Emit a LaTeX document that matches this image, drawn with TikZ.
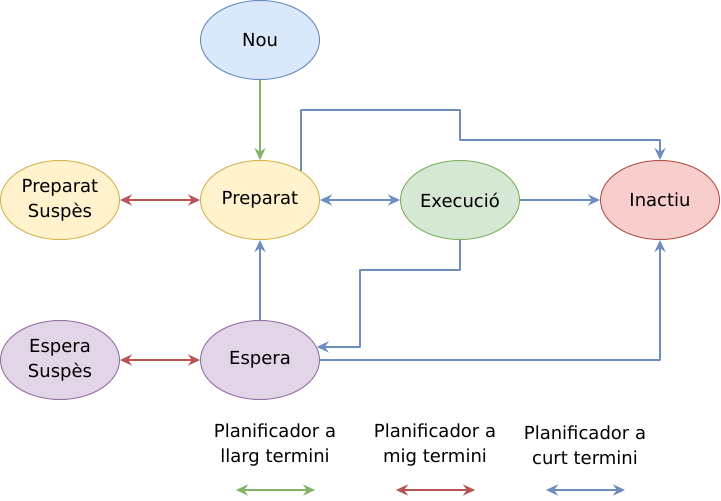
\documentclass[tikz,border=0pt]{standalone}
\usepackage{fontspec}
\setmainfont{DejaVu Sans}
\usetikzlibrary{arrows.meta,shapes.geometric}
\definecolor{nouF}{HTML}{DAE8FC}\definecolor{nouD}{HTML}{6C8EBF}
\definecolor{prepF}{HTML}{FFF2CC}\definecolor{prepD}{HTML}{D6B656}
\definecolor{exeF}{HTML}{D5E8D4}\definecolor{exeD}{HTML}{82B366}
\definecolor{inacF}{HTML}{F8CECC}\definecolor{inacD}{HTML}{B85450}
\definecolor{espF}{HTML}{E1D5E7}\definecolor{espD}{HTML}{9673A6}
\begin{document}
\begin{tikzpicture}[x=1pt,y=-1pt,>={Stealth[length=12pt,width=11pt,inset=4pt]},line join=round,
	font=\fontsize{18}{25}\selectfont,
	estat/.style={ellipse,draw,line width=1pt,minimum width=119pt,minimum height=79pt,inner sep=0pt,align=center},
	llarg/.style={draw=exeD,line width=2.2pt},
	mig/.style={draw=inacD,line width=2.2pt},
	curt/.style={draw=nouD,line width=2.2pt}]
	\useasboundingbox (0,0) rectangle (721,501);
	\node[estat,fill=nouF,draw=nouD] (nou) at (260,40) {Nou};
	\node[estat,fill=prepF,draw=prepD] (prep) at (260,200) {Preparat};
	\node[estat,fill=prepF,draw=prepD] (prepS) at (60,200) {Preparat\\Suspès};
	\node[estat,fill=exeF,draw=exeD] (exe) at (460,200) {Execució};
	\node[estat,fill=inacF,draw=inacD] (inac) at (660,200) {Inactiu};
	\node[estat,fill=espF,draw=espD] (esp) at (260,360) {Espera};
	\node[estat,fill=espF,draw=espD] (espS) at (60,360) {Espera\\Suspès};
	\draw[llarg,->] (nou) -- (prep);
	\draw[mig,<->] (prepS) -- (prep);
	\draw[mig,<->] (espS) -- (esp);
	\draw[curt,<->] (prep) -- (exe);
	\draw[curt,->] (exe) -- (inac);
	\draw[curt,->] (esp) -- (prep);
	\draw[curt,->] (prep.35) |- ([yshift=50pt]exe.north) -- ([yshift=20pt]exe.north) -| (inac.north);
	\draw[curt,->] (exe.south) -- ++(0,30) -| ([xshift=43pt]esp.13) -- (esp.13);
	\draw[curt,->] (esp.east) -| (inac.south);
	\node[align=center] (llargT) at (275,445) {Planificador a\\llarg termini};
	\node[align=center] (migT) at (435,445) {Planificador a\\mig termini};
	\node[align=center] (curtT) at (585,445) {Planificador a\\curt termini};
	\coordinate (llargA) at (236,490); \coordinate (llargB) at (315,490);
	\coordinate (migA) at (396,490); \coordinate (migB) at (475,490);
	\coordinate (curtA) at (546,490); \coordinate (curtB) at (625,490);
	\draw[llarg,<->] (llargA) -- (llargB);
	\draw[mig,<->] (migA) -- (migB);
	\draw[curt,<->] (curtA) -- (curtB);
\end{tikzpicture}
\end{document}
